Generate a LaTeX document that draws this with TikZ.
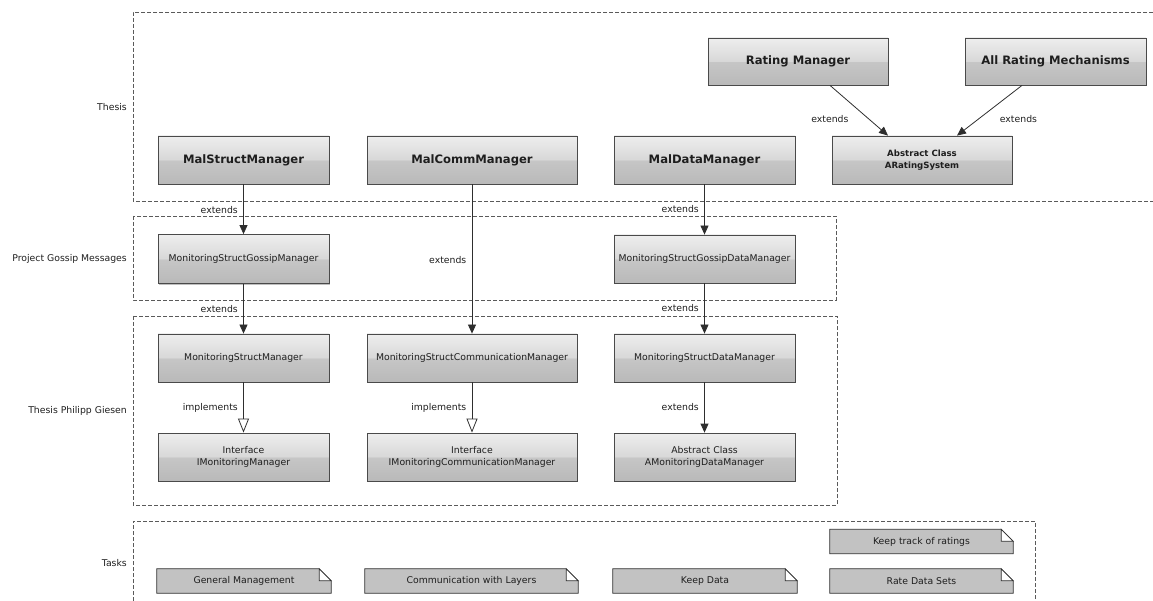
\documentclass[tikz,border=0pt]{standalone}
\usepackage{fontspec}
\setmainfont{DejaVu Sans}
\usetikzlibrary{arrows.meta,shadows,backgrounds}

% colours
\definecolor{gTop}{HTML}{EEEEEE}
\definecolor{gMidUp}{HTML}{D8D8D8}
\definecolor{gMidDown}{HTML}{C6C6C6}
\definecolor{gBot}{HTML}{B9B9B9}
\definecolor{boxline}{HTML}{4A4A4A}
\definecolor{linecol}{HTML}{2E2E2E}
\definecolor{lanecol}{HTML}{5A5A5A}
\definecolor{notefill}{HTML}{C2C2C2}
\definecolor{textcol}{HTML}{1E1E1E}

% two-tone glossy fill for the class boxes
\pgfdeclareverticalshading{glossy}{100bp}{%
  color(0bp)=(gBot); color(25bp)=(gBot); color(49.6bp)=(gMidDown);
  color(50.4bp)=(gMidUp); color(75bp)=(gTop); color(100bp)=(gTop)}

\tikzset{
  clsbox/.style={rectangle, draw=boxline, line width=0.8pt, shading=glossy,
    drop shadow={shadow xshift=1pt, shadow yshift=-1.2pt, opacity=0.25, fill=black},
    align=center, inner sep=2pt, text=textcol},
  bigbox/.style={clsbox, font=\fontsize{11.6}{14}\selectfont\bfseries},
  smallbox/.style={clsbox, font=\fontsize{9.3}{12}\selectfont},
  boldsmallbox/.style={clsbox, font=\fontsize{8.6}{12}\selectfont\bfseries},
  notebox/.style={rectangle, inner sep=0pt, minimum height=24pt,
    font=\fontsize{9.3}{11}\selectfont, text=textcol},
  lanelabel/.style={anchor=east, inner sep=0pt, font=\fontsize{9.3}{11}\selectfont, text=textcol},
  edgelabel/.style={font=\fontsize{9.3}{11}\selectfont, text=textcol},
  lane/.style={draw=lanecol, line width=0.9pt, dash pattern=on 4pt off 2pt},
  extarrow/.style={draw=linecol, line width=0.8pt, -{Triangle[width=8pt,length=9pt]}},
  implarrow/.style={draw=linecol, line width=0.8pt, -{Triangle[open,width=11pt,length=14pt,fill=white]}},
}

% folded-corner note outline, drawn behind the note text
\newcommand\foldnote[1]{%
  \begin{scope}[on background layer]
    \filldraw[fill=notefill, draw=linecol, line width=0.8pt]
      (#1.south west) -- (#1.north west) -- ([xshift=-12pt]#1.north east)
      -- ([yshift=-12pt]#1.north east) -- (#1.south east) -- cycle;
    \filldraw[fill=white, draw=linecol, line width=0.8pt]
      ([xshift=-12pt]#1.north east) -- ([xshift=-12pt,yshift=-12pt]#1.north east)
      -- ([yshift=-12pt]#1.north east) -- cycle;
  \end{scope}}

\begin{document}
\begin{tikzpicture}[x=1pt,y=-1pt]
\useasboundingbox (0,0) rectangle (1153,601);

% swimlanes
\draw[lane] (1153,12) -- (133,12) -- (133,201) -- (1153,201);
\draw[lane] (133,216) rectangle (836,300);
\draw[lane] (133,316) rectangle (837,505);
\draw[lane] (133,601) -- (133,521) -- (1035,521) -- (1035,601);

\node[lanelabel] (lThesis) at (127,107) {Thesis};
\node[lanelabel] (lGossip) at (127,259) {Project Gossip Messages};
\node[lanelabel] (lGiesen) at (127,411) {Thesis Philipp Giesen};
\node[lanelabel] (lTasks)  at (127,563) {Tasks};

% Thesis lane
\node[bigbox, minimum width=180pt, minimum height=47pt] (rm)  at (798,61.5)   {Rating Manager};
\node[bigbox, minimum width=181pt, minimum height=47pt] (arm) at (1055.5,61.5) {All Rating Mechanisms};
\node[boldsmallbox, minimum width=180pt, minimum height=48pt] (ars) at (922,160) {Abstract Class\\ARatingSystem};
\node[bigbox, minimum width=171pt, minimum height=48pt] (msm) at (243.5,160) {MalStructManager};
\node[bigbox, minimum width=210pt, minimum height=48pt] (mcm) at (472,160)   {MalCommManager};
\node[bigbox, minimum width=181pt, minimum height=48pt] (mdm) at (704.5,160) {MalDataManager};

% Project Gossip Messages lane
\node[smallbox, minimum width=171pt, minimum height=49pt] (msgm)  at (243.5,259) {MonitoringStructGossipManager};
\node[smallbox, minimum width=181pt, minimum height=48pt] (msgdm) at (704.5,259) {MonitoringStructGossipDataManager};

% Thesis Philipp Giesen lane
\node[smallbox, minimum width=171pt, minimum height=48pt] (msm2) at (243.5,358) {MonitoringStructManager};
\node[smallbox, minimum width=210pt, minimum height=48pt] (mscm) at (472,358)   {MonitoringStructCommunicationManager};
\node[smallbox, minimum width=181pt, minimum height=48pt] (msdm) at (704.5,358) {MonitoringStructDataManager};
\node[smallbox, minimum width=171pt, minimum height=48pt] (imm)  at (243.5,457) {Interface\\IMonitoringManager};
\node[smallbox, minimum width=210pt, minimum height=48pt] (imcm) at (472,457)   {Interface\\IMonitoringCommunicationManager};
\node[smallbox, minimum width=181pt, minimum height=48pt] (amdm) at (704.5,457) {Abstract Class\\AMonitoringDataManager};

% Tasks lane
\node[notebox, minimum width=183pt] (ktr) at (921.5,541.5) {Keep track of ratings};
\node[notebox, minimum width=174pt] (gm)  at (244,581)    {General Management};
\node[notebox, minimum width=213pt] (cwl) at (471.5,581)  {Communication with Layers};
\node[notebox, minimum width=184pt] (kd)  at (705,581)    {Keep Data};
\node[notebox, minimum width=183pt] (rds) at (921.5,581)  {Rate Data Sets};
\foldnote{ktr}\foldnote{gm}\foldnote{cwl}\foldnote{kd}\foldnote{rds}

% connectors
\draw[extarrow] ([xshift=32pt]rm.south) -- node[edgelabel, pos=0.67, xshift=-39pt] {extends} ([xshift=-34pt]ars.north);
\draw[extarrow] ([xshift=-33.5pt]arm.south) -- node[edgelabel, pos=0.67, xshift=40pt] {extends} ([xshift=35pt]ars.north);

\draw[extarrow] (msm.south) -- node[edgelabel, anchor=east, pos=0.52, xshift=-2pt] {extends} (msgm.north);
\draw[extarrow] (msgm.south) -- node[edgelabel, anchor=east, pos=0.5, xshift=-2pt] {extends} (msm2.north);
\draw[extarrow] (mcm.south) -- node[edgelabel, anchor=east, pos=0.507, xshift=-2pt] {extends} (mscm.north);
\draw[extarrow] (mdm.south) -- node[edgelabel, anchor=east, pos=0.5, xshift=-2pt] {extends} (msgdm.north);
\draw[extarrow] (msgdm.south) -- node[edgelabel, anchor=east, pos=0.5, xshift=-2pt] {extends} (msdm.north);

\draw[implarrow] (msm2.south) -- node[edgelabel, anchor=east, pos=0.5, xshift=-2pt] {implements} (imm.north);
\draw[implarrow] (mscm.south) -- node[edgelabel, anchor=east, pos=0.5, xshift=-2pt] {implements} (imcm.north);
\draw[extarrow] (msdm.south) -- node[edgelabel, anchor=east, pos=0.5, xshift=-2pt] {extends} (amdm.north);
\end{tikzpicture}
\end{document}
